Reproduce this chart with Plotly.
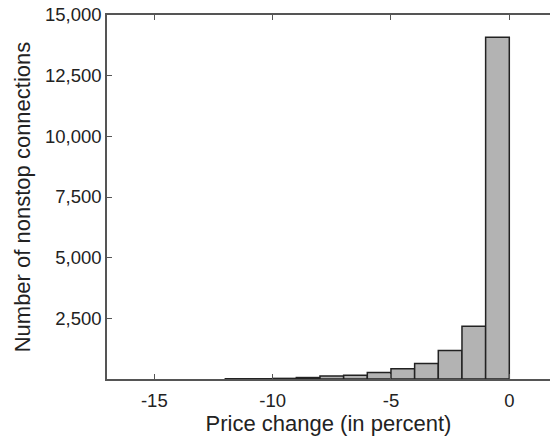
import plotly.graph_objects as go

bin_left = [-12, -11, -10, -9, -8, -7, -6, -5, -4, -3, -2, -1]
counts = [10, 10, 25, 60, 120, 150, 270, 420, 640, 1170, 2170, 14080]
x_tickvals = [-15, -10, -5, 0]
x_ticktext = ["-15", "-10", "-5", "0"]
y_tickvals = [2500, 5000, 7500, 10000, 12500, 15000]

centers = [b + 0.5 for b in bin_left]

fig = go.Figure(go.Bar(
    x=centers, y=counts, width=1,
    marker=dict(color="#b3b3b3", line=dict(color="#222222", width=1.5)),
))

font = dict(family="Liberation Sans, Arial, sans-serif", size=18.5, color="#222222")

fig.update_layout(
    width=550, height=438,
    margin=dict(l=107, r=0, t=15, b=59),
    paper_bgcolor="white", plot_bgcolor="white",
    showlegend=False, font=font,
    xaxis=dict(
        range=[-17, 1.72], tickvals=x_tickvals, ticktext=x_ticktext,
        ticks="inside", ticklen=5, tickcolor="#555555",
        showline=True, linecolor="#555555", linewidth=1.5, mirror="ticks",
        showgrid=False, zeroline=False, ticklabelstandoff=4,
        title=dict(text="Price change (in percent)", standoff=2),
    ),
    yaxis=dict(
        range=[0, 15000], tickvals=y_tickvals, tickformat=",",
        ticks="inside", ticklen=5, tickcolor="#555555",
        showline=True, linecolor="#555555", linewidth=1.5,
        showgrid=False, zeroline=False,
        title=dict(text="Number of nonstop connections", standoff=8),
    ),
)

fig.write_html("out.html")
